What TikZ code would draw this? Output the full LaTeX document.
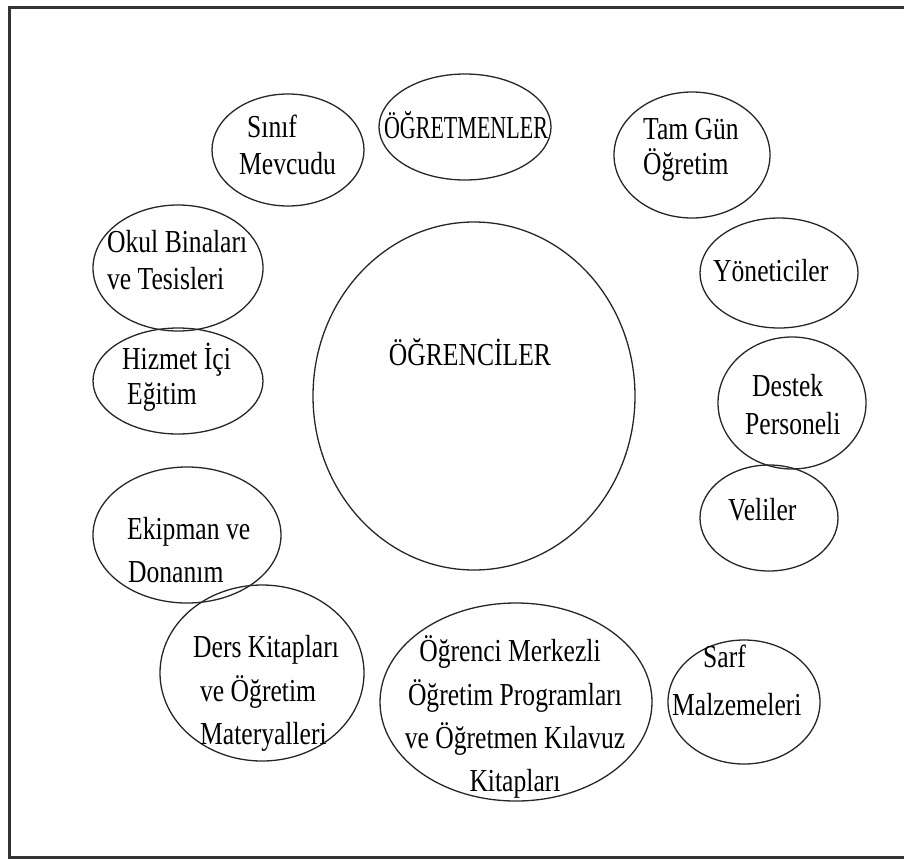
\documentclass[tikz,border=0pt]{standalone}
\usepackage{fontspec}
\setmainfont{Liberation Serif}
\usetikzlibrary{shapes.geometric}
\begin{document}
\begin{tikzpicture}[x=1pt,y=-1pt,
  bubble/.style={draw=black!85, line width=1.3pt, shape=ellipse, inner sep=0pt},
  ln/.style={inner sep=0pt, xscale=0.8, anchor=base west,
    font=\fontsize{32}{38}\selectfont},
  lnc/.style={ln, anchor=base},
  frame/.style={draw=black!80, line width=3pt}]
\useasboundingbox (0,0) rectangle (904,860);
% outer frame (open on the right)
\draw[frame] (904,7) -- (9,7) -- (9,857) -- (904,857);

% central circle
\node[bubble, minimum width=322pt, minimum height=348pt] (ogrenci) at (474,396) {};
\node[lnc] (togrenci) at (470,365) {ÖĞRENCİLER};

% surrounding ellipses and their labels
\node[bubble, minimum width=152pt, minimum height=112pt] (sinif) at (288,150) {};
\node[ln] (sinifa) at (247,137) {Sınıf};
\node[ln] (sinifb) at (239,174) {Mevcudu};

\node[bubble, minimum width=172pt, minimum height=106pt] (ogretmen) at (465,127) {};
\node[lnc, xscale=0.86] (togretmen) at (466,138) {ÖĞRETMENLER};

\node[bubble, minimum width=156pt, minimum height=126pt] (tamgun) at (692,155) {};
\node[ln] (tamguna) at (643,139) {Tam Gün};
\node[ln] (tamgunb) at (643,174) {Öğretim};

\node[bubble, minimum width=170pt, minimum height=126pt] (okul) at (178,268) {};
\node[ln] (okula) at (107,252) {Okul Binaları};
\node[ln] (okulb) at (107,289) {ve Tesisleri};

\node[bubble, minimum width=158pt, minimum height=110pt] (yonetici) at (779,273) {};
\node[ln] (tyonetici) at (713,281) {Yöneticiler};

\node[bubble, minimum width=170pt, minimum height=106pt] (hizmet) at (178,381) {};
\node[ln] (hizmeta) at (122,369) {Hizmet İçi};
\node[ln] (hizmetb) at (127,404) {Eğitim};

\node[bubble, minimum width=148pt, minimum height=132pt] (destek) at (792,403) {};
\node[ln] (desteka) at (752,396) {Destek};
\node[ln] (destekb) at (745,434) {Personeli};

\node[bubble, minimum width=188pt, minimum height=136pt] (ekipman) at (187,535) {};
\node[ln] (ekipmana) at (127,539) {Ekipman ve};
\node[ln] (ekipmanb) at (128,582) {Donanım};

\node[bubble, minimum width=138pt, minimum height=106pt] (veli) at (769,518) {};
\node[ln] (tveli) at (728,520) {Veliler};

\node[bubble, minimum width=204pt, minimum height=176pt] (ders) at (262,673) {};
\node[ln] (dersa) at (193,657) {Ders Kitapları};
\node[ln] (dersb) at (200,701) {ve Öğretim};
\node[ln] (dersc) at (200,744) {Materyalleri};

\node[bubble, minimum width=272pt, minimum height=198pt] (programlar) at (516,702) {};
\node[lnc] (programa) at (510,661) {Öğrenci Merkezli};
\node[lnc] (programb) at (515,705) {Öğretim Programları};
\node[lnc] (programc) at (515,748) {ve Öğretmen Kılavuz};
\node[lnc] (programd) at (515,791) {Kitapları};

\node[bubble, minimum width=152pt, minimum height=124pt] (sarf) at (744,702) {};
\node[ln] (sarfa) at (703,667) {Sarf};
\node[ln] (sarfb) at (672,715) {Malzemeleri};
\end{tikzpicture}
\end{document}
